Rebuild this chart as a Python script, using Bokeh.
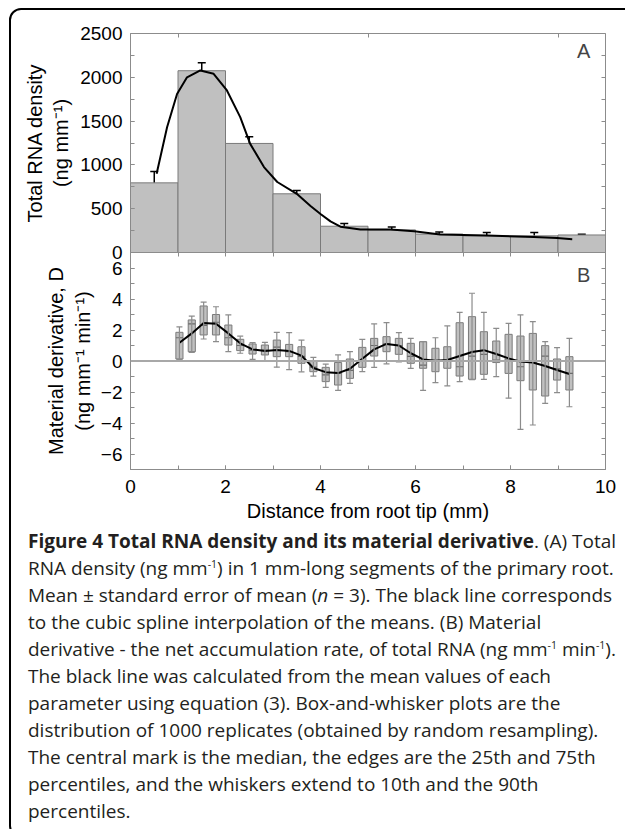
from bokeh.plotting import figure
from bokeh.layouts import column
from bokeh.models import (LinearAxis, FixedTicker, SingleIntervalTicker, Whisker, TeeHead,
                          Span, Label, Div, ColumnDataSource)
from bokeh.embed import file_html
from bokeh.resources import INLINE

# ---------------- Panel A data ----------------
seg_center = [0.5, 1.5, 2.5, 3.5, 4.5, 5.5, 6.5, 7.5, 8.5, 9.5]
rna_mean = [795, 2075, 1245, 670, 300, 258, 210, 190, 190, 200]
rna_sem = [130, 90, 75, 38, 32, 34, 24, 38, 38, 8]
spline_x = [0.55, 0.77, 0.98, 1.19, 1.47, 1.75, 2.03, 2.31, 2.52, 2.81, 3.09, 3.5,
            3.79, 4.0, 4.21, 4.42, 4.84, 5.47, 5.97, 6.52, 7.51, 8.49, 8.98, 9.3]
spline_y = [900, 1430, 1810, 2000, 2078, 2040, 1850, 1545, 1240, 975, 805, 670,
            530, 440, 355, 295, 262, 262, 243, 205, 194, 178, 165, 150]

# ---------------- Panel B data ----------------
box_x = [1.03, 1.29, 1.54, 1.80, 2.06, 2.31, 2.57, 2.83, 3.08, 3.34, 3.60, 3.85,
         4.11, 4.37, 4.62, 4.88, 5.13, 5.39, 5.65, 5.90, 6.16, 6.42, 6.67, 6.93,
         7.19, 7.44, 7.70, 7.96, 8.21, 8.47, 8.73, 8.98, 9.24]
p90 = [2.2, 2.9, 3.8, 3.5, 2.97, 1.6, 1.18, 1.2, 1.85, 1.83, 1.35, 0.24,
       -0.2, 0.39, 0.6, 1.4, 2.39, 2.47, 1.83, 1.46, 1.25, 1.5, 2.26, 3.14,
       4.37, 3.14, 2.1, 2.43, 2.97, 2.54, 1.25, 0.86, 1.46]
q75 = [1.85, 2.65, 3.55, 3.0, 2.32, 1.4, 1.1, 1.03, 1.35, 1.07, 0.92, 0.0,
       -0.41, -0.1, 0.13, 0.88, 1.46, 1.57, 1.46, 1.14, 1.25, 0.82, 0.92, 2.47,
       2.86, 1.89, 1.29, 1.72, 1.61, 1.78, 0.99, 0.13, 0.28]
median = [1.5, 2.4, 2.3, 2.5, 1.5, 1.0, 0.7, 0.7, 0.9, 0.6, 0.3, -0.4,
          -0.9, -0.8, -0.6, 0.0, 1.0, 1.1, 1.0, 0.3, -0.26, 0.0, 0.0, -0.37,
          0.32, 0.43, 0.06, 0.06, -0.37, -0.04, 0.32, -0.5, -0.8]
q25 = [0.13, 0.6, 1.68, 1.68, 1.03, 0.67, 0.45, 0.39, 0.28, 0.28, -0.15, -0.69,
       -1.33, -1.55, -1.12, -0.41, 0.32, 0.6, 0.43, -0.15, -0.47, -0.69, -0.47, -0.97,
       -1.18, -0.86, -0.1, -0.8, -1.27, -1.87, -2.26, -1.23, -1.87]
p10 = [0.1, 0.55, 1.42, 1.25, 0.6, 0.5, 0.1, 0.0, -0.4, -0.55, -0.7, -0.97,
       -1.7, -1.9, -1.44, -0.69, -0.41, -0.19, -0.05, -0.47, -1.9, -1.4, -1.61, -1.33,
       -1.2, -1.18, -1.01, -2.4, -4.41, -4.13, -2.73, -2.04, -2.95]
deriv_line = [1.18, 1.78, 2.45, 2.4, 1.78, 1.14, 0.75, 0.65, 0.71, 0.65, 0.35, -0.45,
              -0.72, -0.78, -0.5, 0.15, 0.75, 1.1, 1.0, 0.5, 0.1, 0.02, 0.06, 0.32,
              0.58, 0.7, 0.45, 0.17, -0.04, -0.1, -0.32, -0.58, -0.84]

A_ticks_right = list(range(0, 2501, 250))
A_ticks_top = [1, 5, 9]

FONT = "Liberation Sans"
GRAY = "#8c8c8c"
BAR_FILL = "#c0c0c0"
BAR_LINE = "#7a7a7a"
W = 640
L = 120
FW = 475
OVER = 10
CAP_LEFT = 18


def style_axis(ax, labels=True, size="19px"):
    ax.axis_line_color = None
    ax.major_tick_in = 4
    ax.major_tick_out = 0
    ax.minor_tick_in = 4
    ax.minor_tick_out = 0
    ax.major_tick_line_color = GRAY
    ax.minor_tick_line_color = GRAY
    ax.major_label_text_font = FONT
    ax.major_label_text_color = "black"
    ax.axis_label_text_font = FONT
    ax.axis_label_text_font_style = "normal"
    ax.axis_label_text_font_size = "20px"
    ax.axis_label_text_color = "black"
    if labels:
        ax.major_label_text_font_size = size
    else:
        ax.major_label_text_font_size = "0px"
        ax.major_label_text_color = None
        ax.major_label_standoff = 0


# ---------------- Figure A ----------------
pa = figure(width=W, height=242 + OVER, x_range=(0, 10), y_range=(0, 2500),
            output_backend="svg", toolbar_location=None,
            x_axis_location="above", y_axis_location="left",
            min_border_left=L, min_border_right=W - L - FW, min_border_top=23,
            min_border_bottom=OVER)
pa.grid.visible = False
pa.outline_line_color = GRAY
pa.background_fill_color = "white"
pa.border_fill_color = None

pa.xaxis.ticker = FixedTicker(ticks=A_ticks_top)
for ax in pa.xaxis:
    style_axis(ax, labels=False)
pa.yaxis.ticker = SingleIntervalTicker(interval=500, num_minor_ticks=2)
for ax in pa.yaxis:
    style_axis(ax)
    ax.major_label_standoff = 8
    ax.axis_label_standoff = 5
pa.yaxis.axis_label = "Total RNA density\n(ng mm\u207b\u00b9)"
ra = LinearAxis(ticker=FixedTicker(ticks=A_ticks_right))
style_axis(ra, labels=False)
pa.add_layout(ra, "right")

pa.vbar(x=seg_center, top=rna_mean, width=1.0, bottom=0,
        fill_color=BAR_FILL, line_color=BAR_LINE, line_width=1)
src_a = ColumnDataSource(dict(x=seg_center,
                              lo=[m - e for m, e in zip(rna_mean, rna_sem)],
                              hi=[m + e for m, e in zip(rna_mean, rna_sem)]))
pa.add_layout(Whisker(source=src_a, base="x", lower="lo", upper="hi",
                      line_color="black", line_width=1.5,
                      upper_head=TeeHead(size=8, line_color="black", line_width=1.5),
                      lower_head=TeeHead(size=8, line_color="black", line_width=1.5)))
pa.line(spline_x, spline_y, line_color="black", line_width=2)
pa.add_layout(Label(x=9.54, y=2300, text="A", text_font=FONT, text_font_size="20px",
                    text_align="center", text_baseline="middle"))

# ---------------- Figure B ----------------
pb = figure(width=W, height=276, x_range=(0, 10), y_range=(-7, 7),
            output_backend="svg", toolbar_location=None,
            x_axis_location="below", y_axis_location="left",
            min_border_left=L, min_border_right=W - L - FW, min_border_top=0,
            min_border_bottom=59, margin=(-OVER, 0, 0, 0))
pb.grid.visible = False
pb.outline_line_color = GRAY
pb.border_fill_color = None

pb.xaxis.ticker = SingleIntervalTicker(interval=2, num_minor_ticks=2)
for ax in pb.xaxis:
    style_axis(ax)
    ax.major_label_standoff = 10
    ax.axis_label_standoff = 4
pb.xaxis.axis_label = "Distance from root tip (mm)"
pb.yaxis.ticker = SingleIntervalTicker(interval=2, num_minor_ticks=2)
for ax in pb.yaxis:
    style_axis(ax)
    ax.major_label_standoff = 8
    ax.axis_label_standoff = 4
pb.yaxis.axis_label = "Material derivative, D\n(ng mm\u207b\u00b9 min\u207b\u00b9)"
rb = LinearAxis(ticker=SingleIntervalTicker(interval=1, num_minor_ticks=0))
style_axis(rb, labels=False)
pb.add_layout(rb, "right")
tb = LinearAxis(ticker=SingleIntervalTicker(interval=1, num_minor_ticks=0))
style_axis(tb, labels=False)
pb.add_layout(tb, "above")

pb.add_layout(Span(location=0, dimension="width", line_color="#a8a8a8", line_width=2))
src_b = ColumnDataSource(dict(x=box_x, p10=p10, q25=q25, med=median, q75=q75, p90=p90))
pb.add_layout(Whisker(source=src_b, base="x", lower="p10", upper="p90",
                      line_color=GRAY, line_width=1.2, level="glyph",
                      upper_head=TeeHead(size=6, line_color=GRAY, line_width=1.2),
                      lower_head=TeeHead(size=6, line_color=GRAY, line_width=1.2)))
pb.vbar(x="x", bottom="q25", top="q75", width=0.15, source=src_b,
        fill_color=BAR_FILL, line_color=BAR_LINE, line_width=1)
pb.dash(x="x", y="med", size=7, source=src_b, line_color="#6a6a6a", line_width=1.2)
pb.line(box_x, deriv_line, line_color="black", line_width=2)
pb.add_layout(Label(x=9.54, y=5.55, text="B", text_font=FONT, text_font_size="20px",
                    text_align="center", text_baseline="middle"))

# ---------------- Caption (with the rounded page frame) ----------------
sup = '<sup style="font-size:10.5px;line-height:0;vertical-align:7px">'
frame_box = ('<div style="position:fixed;left:9px;top:8px;width:660px;height:826px;'
             'border:2px solid black;border-radius:12px;pointer-events:none;'
             'box-sizing:content-box"></div>')
caption = (
    frame_box +
    '<b>Figure 4 Total RNA density and its material derivative</b>. (A) Total<br>'
    'RNA density (ng mm' + sup + '-1</sup>) in 1 mm-long segments of the primary root.<br>'
    'Mean \u00b1 standard error of mean (<i>n</i> = 3). The black line corresponds<br>'
    'to the cubic spline interpolation of the means. (B) Material<br>'
    'derivative - the net accumulation rate, of total RNA (ng mm' + sup + '-1</sup> min'
    + sup + '-1</sup>).<br>'
    'The black line was calculated from the mean values of each<br>'
    'parameter using equation (3). Box-and-whisker plots are the<br>'
    'distribution of 1000 replicates (obtained by random resampling).<br>'
    'The central mark is the median, the edges are the 25th and 75th<br>'
    'percentiles, and the whiskers extend to 10th and the 90th<br>'
    'percentiles.'
)
div = Div(text=caption, width=W - CAP_LEFT, height=290, margin=(0, 0, 0, CAP_LEFT),
          styles={"font-family": "Open Sans", "font-size": "19px",
                  "line-height": "27px", "color": "#231f20",
                  "white-space": "nowrap", "overflow": "visible"})

layout = column(pa, pb, div, spacing=0, margin=(10, 0, 0, 10))

page_css = """
{% block postamble %}
<style>html, body { overflow: hidden !important; }</style>
{% endblock %}
"""

open("out.html", "w").write(file_html(layout, INLINE, template=page_css))
